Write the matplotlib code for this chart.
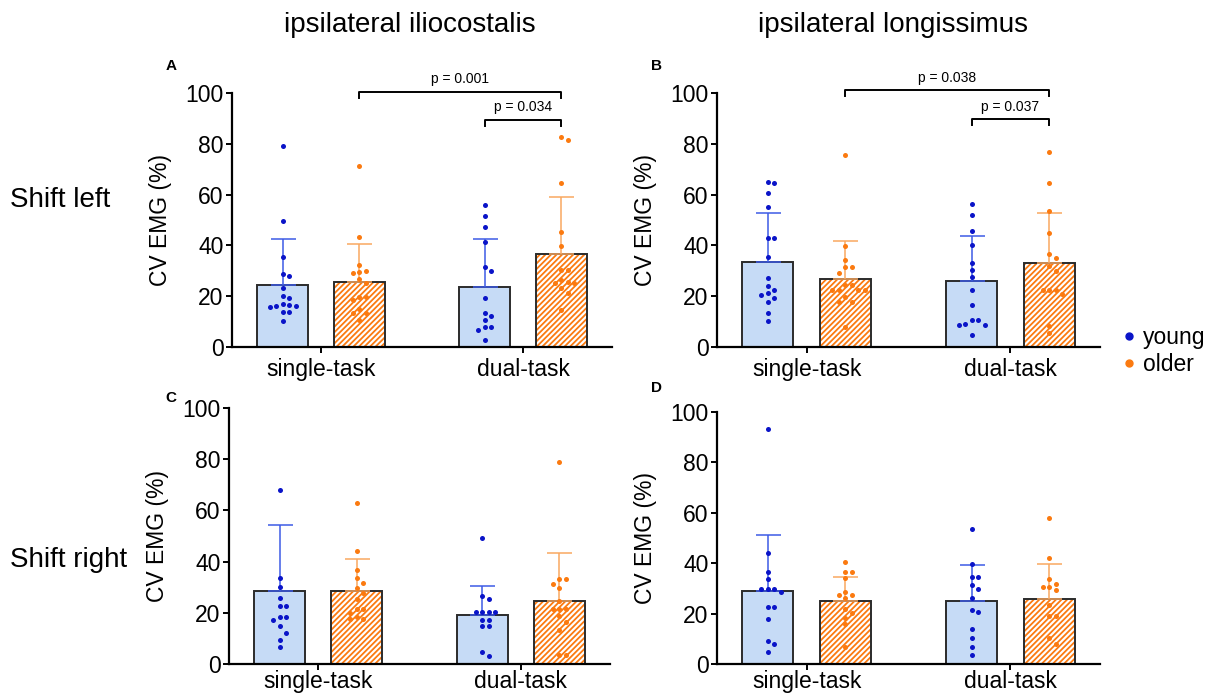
import numpy as np
import matplotlib
matplotlib.use("Agg")
import matplotlib.pyplot as plt
from matplotlib.lines import Line2D

plt.rcParams['font.family'] = ['Liberation Sans', 'DejaVu Sans']
plt.rcParams['hatch.linewidth'] = 1.3

# categories
tasks = ['single-task', 'dual-task']
groups = ['young', 'older']
col_titles = ['ipsilateral iliocostalis', 'ipsilateral longissimus']
row_titles = ['Shift left', 'Shift right']
panel_letters = ['A', 'B', 'C', 'D']

# bar means (young single, older single, young dual, older dual)
means_A = [24.6, 25.7, 23.7, 36.8]
means_B = [33.6, 26.6, 25.9, 33.2]
means_C = [28.4, 28.7, 19.1, 24.7]
means_D = [29.1, 24.9, 24.9, 25.8]

# standard deviations (upper error bars)
sd_A = [17.9, 14.7, 18.8, 22.1]
sd_B = [19.0, 15.1, 17.8, 19.7]
sd_C = [25.9, 12.2, 11.4, 18.7]
sd_D = [22.0, 9.6, 14.4, 13.9]

# individual values
pts_A = [
    [79.2, 49.7, 35.3, 28.6, 27.9, 23.3, 20.1, 19.3, 16.7, 16.2, 15.8, 16.2, 16.8, 13.8, 13.9, 10.3],
    [71.4, 43.2, 32.2, 29.2, 29.6, 29.9, 26.6, 25.3, 19.7, 19.7, 18.7, 15.1, 13.4, 13.4, 10.8],
    [55.8, 51.6, 47.2, 41.4, 31.3, 30.0, 19.1, 12.4, 13.4, 10.8, 7.9, 6.8, 7.9, 2.9],
    [82.6, 81.3, 64.5, 45.4, 39.7, 30.5, 30.5, 26.3, 25.3, 25.3, 25.6, 23.4, 21.3, 14.5],
]
pts_B = [
    [65.0, 64.5, 60.5, 55.3, 42.8, 42.8, 35.5, 27.2, 23.9, 22.6, 21.3, 20.4, 19.1, 17.8, 13.4, 10.3],
    [75.7, 39.9, 34.2, 31.6, 31.6, 29.3, 24.3, 24.3, 22.4, 22.4, 22.4, 22.4, 19.7, 17.8, 17.8, 7.9],
    [56.4, 51.8, 45.7, 40.1, 33.2, 30.5, 27.6, 22.6, 16.4, 10.5, 10.5, 9.2, 8.6, 8.6, 4.6],
    [76.7, 64.5, 53.7, 44.7, 36.6, 34.9, 31.8, 29.9, 22.4, 22.4, 22.4, 21.0, 8.2, 5.5],
]
pts_C = [
    [67.8, 33.5, 30.0, 25.7, 22.7, 22.7, 18.4, 18.4, 17.1, 14.7, 12.3, 9.4, 6.5],
    [62.7, 44.0, 36.8, 33.5, 31.8, 29.6, 27.9, 25.3, 21.4, 21.4, 20.1, 18.2, 17.5, 17.5],
    [49.2, 26.6, 25.3, 20.4, 20.4, 20.4, 20.4, 17.3, 17.3, 14.7, 14.7, 4.8, 3.2],
    [79.1, 33.1, 33.1, 31.2, 29.5, 24.7, 21.4, 21.4, 21.4, 18.8, 16.5, 13.4, 3.5, 3.5],
]
pts_D = [
    [93.4, 44.0, 36.7, 33.8, 29.9, 29.9, 29.9, 28.6, 22.8, 22.8, 17.7, 9.2, 8.0, 4.6],
    [40.4, 36.7, 36.7, 34.1, 28.6, 27.3, 27.3, 26.0, 22.0, 20.1, 18.3, 15.7, 6.9],
    [53.7, 39.7, 34.7, 34.7, 31.2, 29.9, 26.3, 21.6, 20.7, 13.9, 10.2, 6.9, 3.7],
    [58.1, 41.9, 33.6, 31.8, 30.5, 30.5, 29.2, 23.3, 19.1, 19.1, 10.2, 8.0],
]

# significance brackets: (from bar, to bar, height, label)
sig_A = [(1, 3, 100.4, 'p = 0.001'), (2, 3, 89.5, 'p = 0.034')]
sig_B = [(1, 3, 101.0, 'p = 0.038'), (2, 3, 89.7, 'p = 0.037')]

young_fill = '#c6dbf6'
young_dot = '#0a14c8'
young_err = '#3d5be6'
older_col = '#fb7a10'
older_err = '#f9a860'
edge = '#2b2b2b'

W, H = 1208, 696
fig = plt.figure(figsize=(W / 100, H / 100), dpi=100)

# axes boxes in pixels: left, top, right, bottom
boxes = [(232, 93, 612, 347), (717, 93, 1100, 347),
         (229, 408, 610, 664), (717, 412, 1100, 664)]

bar_x = [-0.19, 0.19, 0.81, 1.19]
bar_w = 0.25


def swarm(vals, xc, px_x, px_y, d=6.5):
    # simple beeswarm: place points so that dots do not overlap
    order = np.argsort(vals)[::-1]
    placed = []
    xs = np.zeros(len(vals))
    for i in order:
        y = vals[i] * px_y
        for k in [0, 1, -1, 2, -2, 3, -3, 4, -4]:
            x = k * d
            if all((x - px) ** 2 + (y - py) ** 2 >= d ** 2 for px, py in placed):
                break
        placed.append((x, y))
        xs[i] = xc + x / px_x
    return xs


all_means = [means_A, means_B, means_C, means_D]
all_sd = [sd_A, sd_B, sd_C, sd_D]
all_pts = [pts_A, pts_B, pts_C, pts_D]
all_sig = [sig_A, sig_B, [], []]

for p in range(4):
    l, t, r, b = boxes[p]
    ax = fig.add_axes([l / W, 1 - b / H, (r - l) / W, (b - t) / H])
    ax.set_xlim(-0.44, 1.44)
    ax.set_ylim(0, 100)
    px_x = (r - l) / 1.88
    px_y = (b - t) / 100

    for j in range(4):
        is_young = j % 2 == 0
        m = all_means[p][j]
        if is_young:
            ax.bar(bar_x[j], m, bar_w, color=young_fill, edgecolor=edge, linewidth=1.4, zorder=2)
            ec, dc = young_err, young_dot
        else:
            ax.bar(bar_x[j], m, bar_w, color='white', edgecolor=older_col, hatch='//////',
                   linewidth=0, zorder=2)
            ax.bar(bar_x[j], m, bar_w, fill=False, edgecolor=edge, linewidth=1.4, zorder=2.1)
            ec, dc = older_err, older_col
        ax.errorbar(bar_x[j], m, yerr=[[0], [all_sd[p][j]]], color=ec, capsize=9,
                    elinewidth=1.1, capthick=1.1, zorder=3)
        vals = np.array(all_pts[p][j])
        xs = swarm(vals, bar_x[j], px_x, px_y)
        ax.scatter(xs, vals, s=13, color=dc, linewidths=0, zorder=4)

    for a, c, h, lab in all_sig[p]:
        ax.plot([bar_x[a], bar_x[a], bar_x[c], bar_x[c]], [h - 2.3, h, h, h - 2.3],
                color='black', lw=1.4, clip_on=False)
        ax.text((bar_x[a] + bar_x[c]) / 2, h + 2.2, lab, ha='center', va='bottom',
                fontsize=10)

    for s in ['top', 'right']:
        ax.spines[s].set_visible(False)
    for s in ['left', 'bottom']:
        ax.spines[s].set_linewidth(1.6)
    ax.set_yticks([0, 20, 40, 60, 80, 100])
    ax.set_xticks([0, 1])
    ax.set_xticklabels(tasks)
    ax.tick_params(axis='both', labelsize=16.5, width=1.4, length=4, pad=2)
    ax.tick_params(axis='x', pad=4 if p < 2 else 0.5)
    ax.set_ylabel('CV EMG (%)', fontsize=16.5)
    ax.yaxis.set_label_coords(-60 / (r - l), 0.5)

    lx = 171 if p % 2 == 0 else 657
    ly = [66, 66, 398, 388][p]
    fig.text(lx / W, 1 - ly / H, panel_letters[p], fontsize=11, fontweight='bold',
             ha='center', va='center')

fig.text(410 / W, 1 - 25 / H, col_titles[0], fontsize=20, ha='center', va='center')
fig.text(893 / W, 1 - 25 / H, col_titles[1], fontsize=20, ha='center', va='center')
fig.text(10 / W, 1 - 200 / H, row_titles[0], fontsize=20, ha='left', va='center')
fig.text(10 / W, 1 - 560 / H, row_titles[1], fontsize=20, ha='left', va='center')

handles = [Line2D([], [], marker='o', linestyle='none', color=young_dot, markersize=5),
           Line2D([], [], marker='o', linestyle='none', color=older_col, markersize=5)]
fig.legend(handles, groups, loc='center left', bbox_to_anchor=(1106 / W, 1 - 351 / H),
           frameon=False, fontsize=16.5, handletextpad=0.1, handlelength=1.0,
           labelspacing=0.15, borderpad=0)

fig.savefig('out.png', dpi=100)
